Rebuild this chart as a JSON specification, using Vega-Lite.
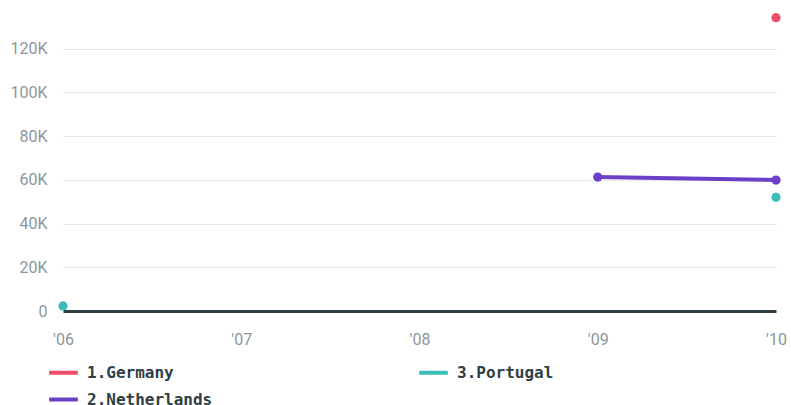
{
  "$schema": "https://vega.github.io/schema/vega-lite/v6.json",
  "width": 713,
  "height": 306,
  "autosize": {"type": "none"},
  "padding": {"left": 63, "top": 5, "right": 15, "bottom": 94},
  "background": "#ffffff",
  "data": {
    "values": [
      {"country": "1.Germany", "year": 2010, "value": 134200},
      {"country": "2.Netherlands", "year": 2009, "value": 61300},
      {"country": "2.Netherlands", "year": 2010, "value": 59900},
      {"country": "3.Portugal", "year": 2006, "value": 2300},
      {"country": "3.Portugal", "year": 2007, "value": null},
      {"country": "3.Portugal", "year": 2008, "value": null},
      {"country": "3.Portugal", "year": 2009, "value": null},
      {"country": "3.Portugal", "year": 2010, "value": 52000}
    ]
  },
  "encoding": {
    "x": {
      "field": "year",
      "type": "quantitative",
      "scale": {"domain": [2006, 2010], "nice": false, "zero": false},
      "axis": {
        "title": null,
        "values": [2006, 2007, 2008, 2009, 2010],
        "labelExpr": "\"'\" + substring(toString(datum.value), 2)",
        "labelFlush": false,
        "labelOverlap": false,
        "ticks": false,
        "grid": false,
        "domain": true,
        "domainColor": "#2f3e46",
        "domainWidth": 3,
        "labelPadding": 20,
        "labelFont": "Roboto",
        "labelFontSize": 16,
        "labelColor": "#8c969b"
      }
    },
    "y": {
      "field": "value",
      "type": "quantitative",
      "scale": {"domain": [0, 140000], "nice": false},
      "axis": {
        "title": null,
        "values": [0, 20000, 40000, 60000, 80000, 100000, 120000],
        "labelExpr": "datum.value == 0 ? '0' : (datum.value / 1000) + 'K'",
        "ticks": false,
        "domain": false,
        "grid": true,
        "gridColor": "#e9e9e9",
        "gridWidth": 1,
        "labelPadding": 16,
        "labelFont": "Roboto",
        "labelFontSize": 16,
        "labelColor": "#8c969b"
      }
    },
    "color": {
      "field": "country",
      "type": "nominal",
      "scale": {
        "domain": ["1.Germany", "3.Portugal", "2.Netherlands"],
        "range": ["#ee4d68", "#3dbdb9", "#6b3fc6"]
      },
      "legend": {
        "title": null,
        "orient": "none",
        "legendX": -16,
        "legendY": 351,
        "direction": "horizontal",
        "columns": 2,
        "columnPadding": 198,
        "rowPadding": 2,
        "symbolType": "stroke",
        "symbolSize": 820,
        "symbolStrokeWidth": 4,
        "labelOffset": 7,
        "labelFont": "DejaVu Sans Mono",
        "labelFontWeight": "bold",
        "labelFontSize": 16,
        "labelColor": "#2f3e46",
        "labelLimit": 300
      }
    }
  },
  "layer": [
    {
      "mark": {"type": "line", "strokeWidth": 4, "invalid": "break-paths-filter-domains"}
    },
    {
      "mark": {"type": "point", "filled": true, "size": 85, "opacity": 1}
    }
  ],
  "config": {
    "view": {"stroke": null}
  }
}
